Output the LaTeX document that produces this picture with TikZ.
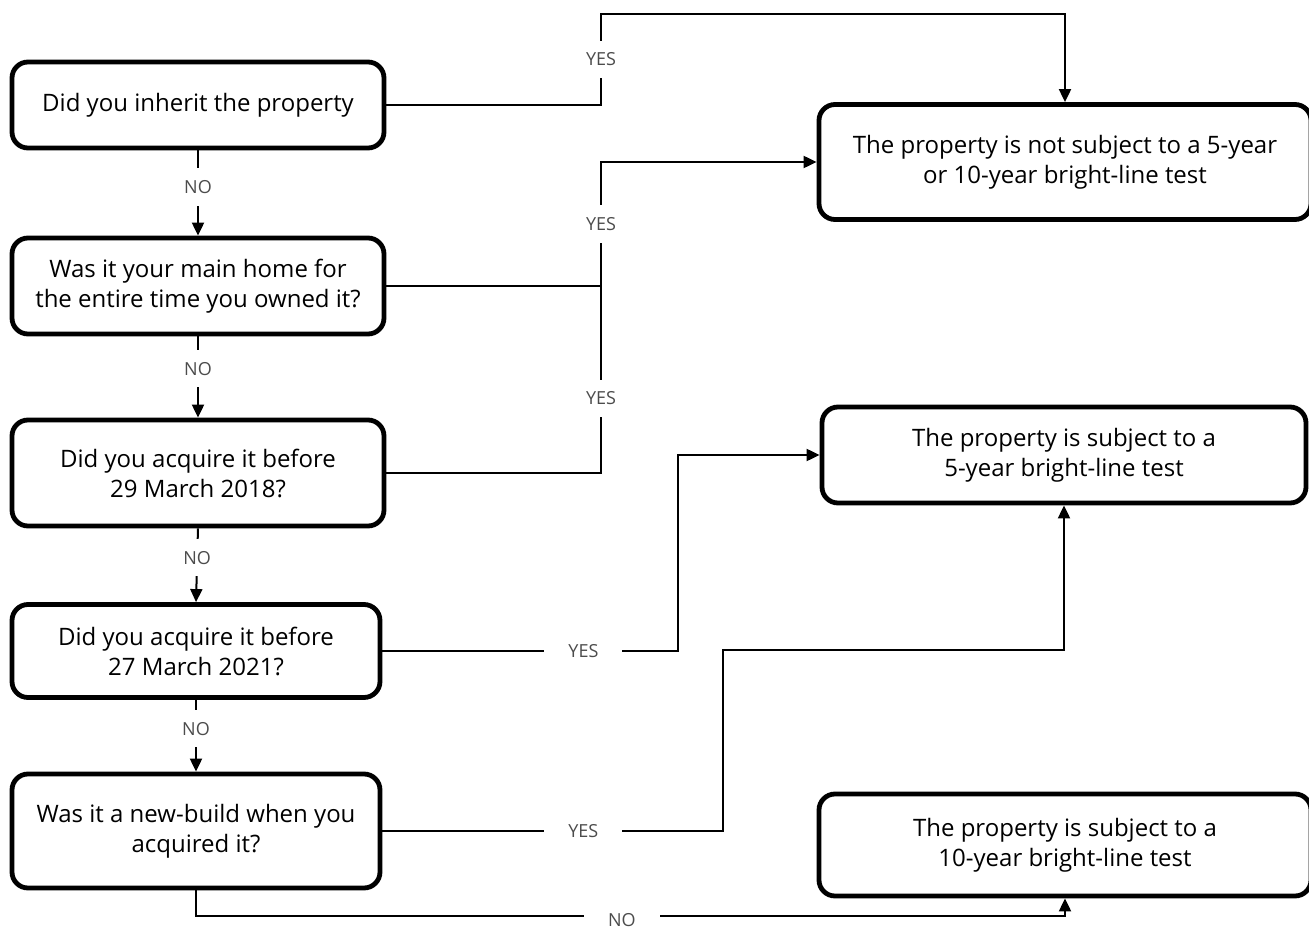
\documentclass[tikz,border=0pt]{standalone}
\usepackage{fontspec}
\setmainfont{Open Sans}
\usetikzlibrary{arrows.meta}
\begin{document}
\begin{tikzpicture}[x=1pt,y=-1pt,
  box/.style={draw=black, line width=4.8pt, rounded corners=16pt, align=center,
    font=\fontsize{24}{30}\selectfont, inner sep=0pt, text=black},
  conn/.style={line width=2pt, draw=black},
  arr/.style={-{Triangle[length=13pt,width=12pt]}},
  lbl/.style={fill=white, text=black!70, font=\fontsize{18}{20}\selectfont,
    inner xsep=24pt, inner ysep=12pt}]
\useasboundingbox (0,0) rectangle (1309,928);

\node[box, minimum width=372pt, minimum height=86pt] (b1) at (198,105) {Did you inherit the property};
\node[box, minimum width=372pt, minimum height=96pt] (b2) at (198,286) {Was it your main home for\\the entire time you owned it?};
\node[box, minimum width=372pt, minimum height=106pt] (b3) at (198,473) {Did you acquire it before\\29 March 2018?};
\node[box, minimum width=368pt, minimum height=93pt] (b4) at (196,651) {Did you acquire it before\\27 March 2021?};
\node[box, minimum width=368pt, minimum height=114pt] (b5) at (196,831) {Was it a new-build when you\\acquired it?};

\node[box, minimum width=492pt, minimum height=115pt] (r1) at (1065,162) {The property is not subject to a 5-year\\or 10-year bright-line test};
\node[box, minimum width=484pt, minimum height=96pt] (r2) at (1064,455) {The property is subject to a\\5-year bright-line test};
\node[box, minimum width=492pt, minimum height=102pt] (r3) at (1065,845) {The property is subject to a\\10-year bright-line test};

\coordinate (c1a) at (601,105);
\coordinate (c1b) at (601,14);
\coordinate (c2a) at (601,286);
\coordinate (c2b) at (601,162);
\coordinate (c3a) at (601,473);
\coordinate (c4a) at (678,651);
\coordinate (c5a) at (723,831);
\coordinate (c5b) at (723,650);
\coordinate (c6a) at (196,916);

% NO chain
\draw[conn,arr] (b1.south) -- node[lbl,pos=0.43]{NO} (b2.north);
\draw[conn,arr] (b2.south) -- node[lbl,pos=0.4]{NO} (b3.north);
\draw[conn,arr] (b3.south) -- node[lbl,pos=0.4]{NO} (b4.north);
\draw[conn,arr] (b4.south) -- node[lbl,pos=0.4]{NO} (b5.north);

% YES connectors
\draw[conn,arr] (b1.east) -- (c1a) -- node[lbl]{YES} (c1b) -| (r1.north);
\draw[conn,arr] (b2.east) -- (c2a) -- node[lbl,pos=0.5]{YES} (c2b) -- (r1.west);
\draw[conn] (b3.east) -- (c3a) -- node[lbl,pos=0.4]{YES} (c2a);
\draw[conn,arr] (b4.east) -- node[lbl,pos=0.68]{YES} (c4a) |- (r2.west);
\draw[conn,arr] (b5.east) -- node[lbl,pos=0.59]{YES} (c5a) -- (c5b) -| (r2.south);
\draw[conn,arr] (b5.south) -- (c6a) -| node[lbl,pos=0.245,yshift=-4pt]{NO} (r3.south);
\end{tikzpicture}
\end{document}
